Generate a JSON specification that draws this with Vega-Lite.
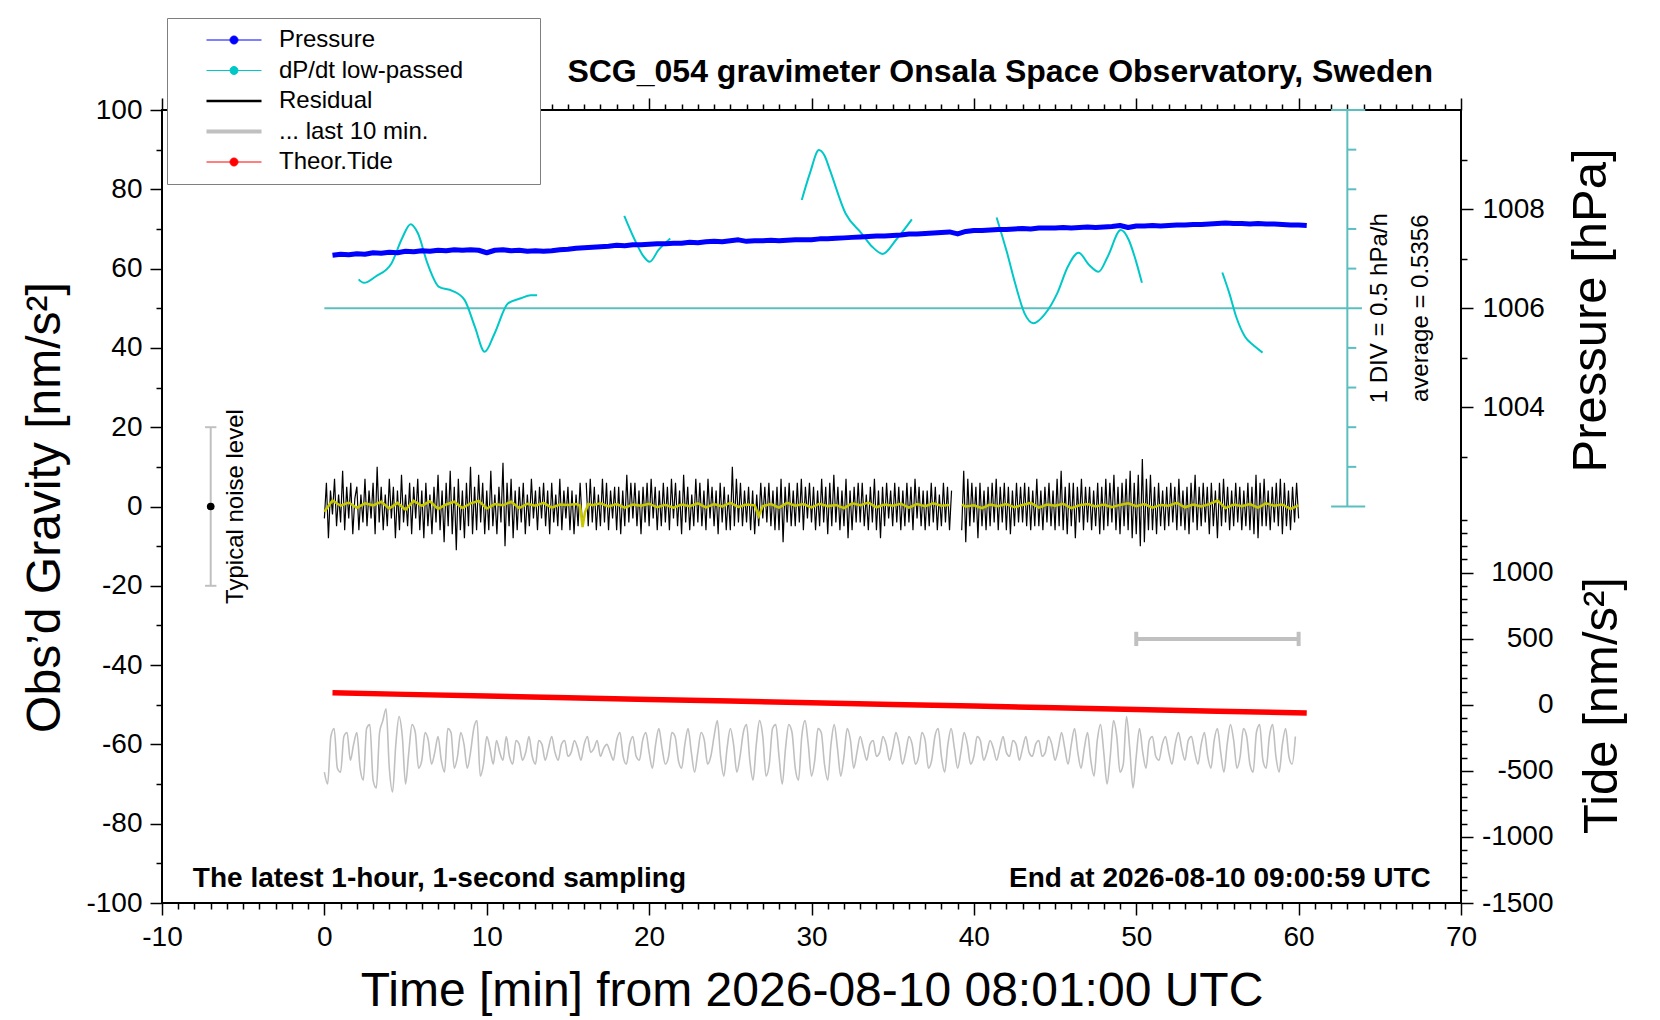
{
  "$schema": "https://vega.github.io/schema/vega-lite/v6.json",
  "width": 1299,
  "height": 793,
  "autosize": {"type": "none"},
  "padding": {"left": 162, "top": 110, "right": 199, "bottom": 117},
  "background": "white",
  "title": {
    "text": "SCG_054 gravimeter Onsala Space Observatory, Sweden",
    "anchor": "end", "frame": "group", "dx": -28, "dy": 80, "offset": 9,
    "fontSize": 32, "fontWeight": "bold", "font": "Liberation Sans", "color": "black"
  },
  "config": {
    "font": "Liberation Sans",
    "view": {"stroke": "black", "strokeWidth": 2},
    "axis": {
      "grid": false, "domain": false, "tickColor": "black", "tickWidth": 1.5, "tickSize": 12,
      "labelFont": "Liberation Sans", "labelFontSize": 28, "labelColor": "black", "labelPadding": 8,
      "labelOverlap": false, "labelFlush": false, "labelBound": false,
      "titleFont": "Liberation Sans", "titleFontSize": 48, "titleFontWeight": "normal", "titleColor": "black"
    },
    "legend": {
      "orient": "none", "legendX": 5, "legendY": -92,
      "labelFont": "Liberation Sans", "labelFontSize": 24, "labelColor": "black", "labelLimit": 0,
      "fillColor": "white", "strokeColor": "#7f7f7f", "padding": 10,
      "symbolSize": 400, "symbolOffset": 45, "labelOffset": 33, "rowPadding": 6.5
    }
  },
  "datasets": {
    "residual": [
      {"t":0,"r":-3},{"t":0.125,"r":6},{"t":0.25,"r":-8},{"t":0.375,"r":4},{"t":0.5,"r":-2},{"t":0.625,"r":7},{"t":0.75,"r":-5},{"t":0.875,"r":3},
      {"t":1,"r":-4},{"t":1.125,"r":9},{"t":1.25,"r":-6},{"t":1.375,"r":5},{"t":1.5,"r":-3},{"t":1.625,"r":6},{"t":1.75,"r":-7},{"t":1.875,"r":2},
      {"t":2,"r":5},{"t":2.125,"r":-6},{"t":2.25,"r":3},{"t":2.375,"r":-4},{"t":2.5,"r":7},{"t":2.625,"r":-5},{"t":2.75,"r":4},{"t":2.875,"r":-3},
      {"t":3,"r":6},{"t":3.125,"r":-7},{"t":3.25,"r":10},{"t":3.375,"r":-4},{"t":3.5,"r":5},{"t":3.625,"r":-6},{"t":3.75,"r":3},{"t":3.875,"r":-5},
      {"t":4,"r":7},{"t":4.125,"r":-3},{"t":4.25,"r":5},{"t":4.375,"r":-8},{"t":4.5,"r":4},{"t":4.625,"r":-6},{"t":4.75,"r":8},{"t":4.875,"r":-4},
      {"t":5,"r":3},{"t":5.125,"r":-5},{"t":5.25,"r":6},{"t":5.375,"r":-7},{"t":5.5,"r":5},{"t":5.625,"r":-3},{"t":5.75,"r":7},{"t":5.875,"r":-6},
      {"t":6,"r":4},{"t":6.125,"r":-8},{"t":6.25,"r":6},{"t":6.375,"r":-5},{"t":6.5,"r":3},{"t":6.625,"r":-7},{"t":6.75,"r":5},{"t":6.875,"r":-4},
      {"t":7,"r":8},{"t":7.125,"r":-6},{"t":7.25,"r":4},{"t":7.375,"r":-9},{"t":7.5,"r":6},{"t":7.625,"r":-5},{"t":7.75,"r":9},{"t":7.875,"r":-7},
      {"t":8,"r":5},{"t":8.125,"r":-11},{"t":8.25,"r":7},{"t":8.375,"r":-6},{"t":8.5,"r":4},{"t":8.625,"r":-8},{"t":8.75,"r":6},{"t":8.875,"r":-5},
      {"t":9,"r":10},{"t":9.125,"r":-7},{"t":9.25,"r":5},{"t":9.375,"r":-6},{"t":9.5,"r":8},{"t":9.625,"r":-4},{"t":9.75,"r":6},{"t":9.875,"r":-7},
      {"t":10,"r":4},{"t":10.125,"r":-6},{"t":10.25,"r":9},{"t":10.375,"r":-5},{"t":10.5,"r":3},{"t":10.625,"r":-7},{"t":10.75,"r":5},{"t":10.875,"r":-4},
      {"t":11,"r":11},{"t":11.125,"r":-10},{"t":11.25,"r":6},{"t":11.375,"r":-5},{"t":11.5,"r":7},{"t":11.625,"r":-8},{"t":11.75,"r":4},{"t":11.875,"r":-6},
      {"t":12,"r":5},{"t":12.125,"r":-4},{"t":12.25,"r":6},{"t":12.375,"r":-7},{"t":12.5,"r":3},{"t":12.625,"r":-5},{"t":12.75,"r":7},{"t":12.875,"r":-3},
      {"t":13,"r":4},{"t":13.125,"r":-6},{"t":13.25,"r":5},{"t":13.375,"r":-3},{"t":13.5,"r":6},{"t":13.625,"r":-5},{"t":13.75,"r":4},{"t":13.875,"r":-7},
      {"t":14,"r":6},{"t":14.125,"r":-4},{"t":14.25,"r":3},{"t":14.375,"r":-5},{"t":14.5,"r":7},{"t":14.625,"r":-6},{"t":14.75,"r":4},{"t":14.875,"r":-3},
      {"t":15,"r":5},{"t":15.125,"r":-6},{"t":15.25,"r":4},{"t":15.375,"r":-7},{"t":15.5,"r":3},{"t":15.625,"r":-5},{"t":15.75,"r":6},{"t":15.875,"r":-4},
      {"t":16,"r":null},{"t":16.125,"r":6},{"t":16.25,"r":-5},{"t":16.375,"r":7},{"t":16.5,"r":-4},{"t":16.625,"r":5},{"t":16.75,"r":-6},{"t":16.875,"r":3},
      {"t":17,"r":-5},{"t":17.125,"r":7},{"t":17.25,"r":-4},{"t":17.375,"r":6},{"t":17.5,"r":-6},{"t":17.625,"r":4},{"t":17.75,"r":-3},{"t":17.875,"r":5},
      {"t":18,"r":-6},{"t":18.125,"r":5},{"t":18.25,"r":-7},{"t":18.375,"r":4},{"t":18.5,"r":-5},{"t":18.625,"r":8},{"t":18.75,"r":-4},{"t":18.875,"r":6},
      {"t":19,"r":-3},{"t":19.125,"r":6},{"t":19.25,"r":-5},{"t":19.375,"r":4},{"t":19.5,"r":-7},{"t":19.625,"r":5},{"t":19.75,"r":-4},{"t":19.875,"r":6},
      {"t":20,"r":-5},{"t":20.125,"r":7},{"t":20.25,"r":-3},{"t":20.375,"r":5},{"t":20.5,"r":-6},{"t":20.625,"r":4},{"t":20.75,"r":-5},{"t":20.875,"r":6},
      {"t":21,"r":-4},{"t":21.125,"r":5},{"t":21.25,"r":-6},{"t":21.375,"r":7},{"t":21.5,"r":-3},{"t":21.625,"r":6},{"t":21.75,"r":-5},{"t":21.875,"r":4},
      {"t":22,"r":-7},{"t":22.125,"r":8},{"t":22.25,"r":-4},{"t":22.375,"r":5},{"t":22.5,"r":-6},{"t":22.625,"r":3},{"t":22.75,"r":-5},{"t":22.875,"r":7},
      {"t":23,"r":-4},{"t":23.125,"r":6},{"t":23.25,"r":-5},{"t":23.375,"r":4},{"t":23.5,"r":-6},{"t":23.625,"r":7},{"t":23.75,"r":-3},{"t":23.875,"r":5},
      {"t":24,"r":-5},{"t":24.125,"r":4},{"t":24.25,"r":-7},{"t":24.375,"r":6},{"t":24.5,"r":-4},{"t":24.625,"r":5},{"t":24.75,"r":-6},{"t":24.875,"r":3},
      {"t":25,"r":-6},{"t":25.125,"r":10},{"t":25.25,"r":-5},{"t":25.375,"r":7},{"t":25.5,"r":-4},{"t":25.625,"r":6},{"t":25.75,"r":-5},{"t":25.875,"r":4},
      {"t":26,"r":-4},{"t":26.125,"r":5},{"t":26.25,"r":-6},{"t":26.375,"r":4},{"t":26.5,"r":-7},{"t":26.625,"r":3},{"t":26.75,"r":-5},{"t":26.875,"r":6},
      {"t":27,"r":-3},{"t":27.125,"r":5},{"t":27.25,"r":-4},{"t":27.375,"r":6},{"t":27.5,"r":-5},{"t":27.625,"r":4},{"t":27.75,"r":-6},{"t":27.875,"r":5},
      {"t":28,"r":-6},{"t":28.125,"r":7},{"t":28.25,"r":-9},{"t":28.375,"r":5},{"t":28.5,"r":-4},{"t":28.625,"r":6},{"t":28.75,"r":-5},{"t":28.875,"r":4},
      {"t":29,"r":-5},{"t":29.125,"r":6},{"t":29.25,"r":-4},{"t":29.375,"r":7},{"t":29.5,"r":-6},{"t":29.625,"r":5},{"t":29.75,"r":-3},{"t":29.875,"r":6},
      {"t":30,"r":-4},{"t":30.125,"r":5},{"t":30.25,"r":-6},{"t":30.375,"r":4},{"t":30.5,"r":-5},{"t":30.625,"r":7},{"t":30.75,"r":-4},{"t":30.875,"r":5},
      {"t":31,"r":-7},{"t":31.125,"r":6},{"t":31.25,"r":-5},{"t":31.375,"r":8},{"t":31.5,"r":-4},{"t":31.625,"r":5},{"t":31.75,"r":-6},{"t":31.875,"r":4},
      {"t":32,"r":-5},{"t":32.125,"r":7},{"t":32.25,"r":-8},{"t":32.375,"r":4},{"t":32.5,"r":-6},{"t":32.625,"r":5},{"t":32.75,"r":-4},{"t":32.875,"r":6},
      {"t":33,"r":-4},{"t":33.125,"r":6},{"t":33.25,"r":-5},{"t":33.375,"r":3},{"t":33.5,"r":-6},{"t":33.625,"r":5},{"t":33.75,"r":-4},{"t":33.875,"r":7},
      {"t":34,"r":-6},{"t":34.125,"r":4},{"t":34.25,"r":-8},{"t":34.375,"r":5},{"t":34.5,"r":-5},{"t":34.625,"r":6},{"t":34.75,"r":-3},{"t":34.875,"r":4},
      {"t":35,"r":-5},{"t":35.125,"r":6},{"t":35.25,"r":-4},{"t":35.375,"r":5},{"t":35.5,"r":-6},{"t":35.625,"r":4},{"t":35.75,"r":-5},{"t":35.875,"r":6},
      {"t":36,"r":-4},{"t":36.125,"r":5},{"t":36.25,"r":-6},{"t":36.375,"r":7},{"t":36.5,"r":-3},{"t":36.625,"r":5},{"t":36.75,"r":-5},{"t":36.875,"r":4},
      {"t":37,"r":-6},{"t":37.125,"r":4},{"t":37.25,"r":-5},{"t":37.375,"r":6},{"t":37.5,"r":-4},{"t":37.625,"r":5},{"t":37.75,"r":-6},{"t":37.875,"r":3},
      {"t":38,"r":-5},{"t":38.125,"r":6},{"t":38.25,"r":-4},{"t":38.375,"r":5},{"t":38.5,"r":-6},{"t":38.625,"r":4},{"t":38.75,"r":null},{"t":38.875,"r":null},
      {"t":39,"r":null},{"t":39.125,"r":null},{"t":39.25,"r":-6},{"t":39.375,"r":9},{"t":39.5,"r":-9},{"t":39.625,"r":7},{"t":39.75,"r":-5},{"t":39.875,"r":6},
      {"t":40,"r":-4},{"t":40.125,"r":5},{"t":40.25,"r":-8},{"t":40.375,"r":6},{"t":40.5,"r":-5},{"t":40.625,"r":4},{"t":40.75,"r":-6},{"t":40.875,"r":5},
      {"t":41,"r":-5},{"t":41.125,"r":6},{"t":41.25,"r":-4},{"t":41.375,"r":7},{"t":41.5,"r":-6},{"t":41.625,"r":5},{"t":41.75,"r":-4},{"t":41.875,"r":6},
      {"t":42,"r":-6},{"t":42.125,"r":5},{"t":42.25,"r":-7},{"t":42.375,"r":4},{"t":42.5,"r":-5},{"t":42.625,"r":6},{"t":42.75,"r":-4},{"t":42.875,"r":5},
      {"t":43,"r":-4},{"t":43.125,"r":6},{"t":43.25,"r":-5},{"t":43.375,"r":5},{"t":43.5,"r":-6},{"t":43.625,"r":4},{"t":43.75,"r":-5},{"t":43.875,"r":7},
      {"t":44,"r":-5},{"t":44.125,"r":4},{"t":44.25,"r":-6},{"t":44.375,"r":5},{"t":44.5,"r":-4},{"t":44.625,"r":6},{"t":44.75,"r":-5},{"t":44.875,"r":4},
      {"t":45,"r":-6},{"t":45.125,"r":7},{"t":45.25,"r":-5},{"t":45.375,"r":9},{"t":45.5,"r":-6},{"t":45.625,"r":5},{"t":45.75,"r":-7},{"t":45.875,"r":6},
      {"t":46,"r":-5},{"t":46.125,"r":6},{"t":46.25,"r":-8},{"t":46.375,"r":5},{"t":46.5,"r":-4},{"t":46.625,"r":7},{"t":46.75,"r":-6},{"t":46.875,"r":5},
      {"t":47,"r":-4},{"t":47.125,"r":5},{"t":47.25,"r":-6},{"t":47.375,"r":4},{"t":47.5,"r":-5},{"t":47.625,"r":6},{"t":47.75,"r":-7},{"t":47.875,"r":5},
      {"t":48,"r":-6},{"t":48.125,"r":7},{"t":48.25,"r":-5},{"t":48.375,"r":6},{"t":48.5,"r":-4},{"t":48.625,"r":8},{"t":48.75,"r":-6},{"t":48.875,"r":5},
      {"t":49,"r":-7},{"t":49.125,"r":6},{"t":49.25,"r":-5},{"t":49.375,"r":7},{"t":49.5,"r":-6},{"t":49.625,"r":9},{"t":49.75,"r":-8},{"t":49.875,"r":6},
      {"t":50,"r":-7},{"t":50.125,"r":8},{"t":50.25,"r":-10},{"t":50.375,"r":12},{"t":50.5,"r":-9},{"t":50.625,"r":7},{"t":50.75,"r":-6},{"t":50.875,"r":8},
      {"t":51,"r":-6},{"t":51.125,"r":5},{"t":51.25,"r":-7},{"t":51.375,"r":6},{"t":51.5,"r":-5},{"t":51.625,"r":4},{"t":51.75,"r":-6},{"t":51.875,"r":5},
      {"t":52,"r":-5},{"t":52.125,"r":6},{"t":52.25,"r":-4},{"t":52.375,"r":5},{"t":52.5,"r":-6},{"t":52.625,"r":7},{"t":52.75,"r":-5},{"t":52.875,"r":4},
      {"t":53,"r":-6},{"t":53.125,"r":5},{"t":53.25,"r":-7},{"t":53.375,"r":6},{"t":53.5,"r":-4},{"t":53.625,"r":8},{"t":53.75,"r":-6},{"t":53.875,"r":5},
      {"t":54,"r":-5},{"t":54.125,"r":6},{"t":54.25,"r":-4},{"t":54.375,"r":5},{"t":54.5,"r":-7},{"t":54.625,"r":6},{"t":54.75,"r":-5},{"t":54.875,"r":4},
      {"t":55,"r":-8},{"t":55.125,"r":6},{"t":55.25,"r":-5},{"t":55.375,"r":7},{"t":55.5,"r":-4},{"t":55.625,"r":5},{"t":55.75,"r":-6},{"t":55.875,"r":4},
      {"t":56,"r":-5},{"t":56.125,"r":6},{"t":56.25,"r":-4},{"t":56.375,"r":5},{"t":56.5,"r":-6},{"t":56.625,"r":4},{"t":56.75,"r":-5},{"t":56.875,"r":6},
      {"t":57,"r":-6},{"t":57.125,"r":5},{"t":57.25,"r":-7},{"t":57.375,"r":8},{"t":57.5,"r":-8},{"t":57.625,"r":6},{"t":57.75,"r":-5},{"t":57.875,"r":7},
      {"t":58,"r":-5},{"t":58.125,"r":4},{"t":58.25,"r":-6},{"t":58.375,"r":5},{"t":58.5,"r":-4},{"t":58.625,"r":6},{"t":58.75,"r":-5},{"t":58.875,"r":7},
      {"t":59,"r":-7},{"t":59.125,"r":6},{"t":59.25,"r":-5},{"t":59.375,"r":4},{"t":59.5,"r":-6},{"t":59.625,"r":5},{"t":59.75,"r":-4},{"t":59.875,"r":6},
      {"t":60,"r":-3}
    ],
    "lowpass": [
      {"t":0,"r":-1.3},{"t":0.5,"r":1.5},{"t":1,"r":0.2},{"t":1.5,"r":1.0},{"t":2,"r":-0.3},{"t":2.5,"r":0.8},{"t":3,"r":0.3},{"t":3.5,"r":1.2},
      {"t":4,"r":-0.5},{"t":4.5,"r":0.9},{"t":5,"r":-0.8},{"t":5.5,"r":1.4},{"t":6,"r":0.2},{"t":6.5,"r":1.3},{"t":7,"r":-0.6},{"t":7.5,"r":0.5},
      {"t":8,"r":1.2},{"t":8.5,"r":-0.4},{"t":9,"r":0.8},{"t":9.5,"r":1.4},{"t":10,"r":-0.5},{"t":10.5,"r":0.6},{"t":11,"r":0.3},{"t":11.5,"r":1.2},
      {"t":12,"r":-0.4},{"t":12.5,"r":0.7},{"t":13,"r":0.2},{"t":13.5,"r":0.9},{"t":14,"r":-0.3},{"t":14.5,"r":0.5},{"t":15,"r":0.4},{"t":15.5,"r":0.6},
      {"t":15.75,"r":0.2},{"t":15.9,"r":-5.2},{"t":16.05,"r":-1.5},{"t":16.25,"r":0.6},{"t":16.5,"r":0.3},{"t":17,"r":0.8},{"t":17.5,"r":0.0},{"t":18,"r":0.6},
      {"t":18.5,"r":-0.3},{"t":19,"r":0.5},{"t":19.5,"r":0.2},{"t":20,"r":0.7},{"t":20.5,"r":-0.2},{"t":21,"r":0.4},{"t":21.5,"r":-0.3},{"t":22,"r":0.5},
      {"t":22.5,"r":0.1},{"t":23,"r":0.8},{"t":23.5,"r":-0.2},{"t":24,"r":0.6},{"t":24.5,"r":0.0},{"t":25,"r":0.9},{"t":25.5,"r":-0.1},{"t":26,"r":0.5},
      {"t":26.5,"r":0.3},{"t":26.75,"r":-2.4},{"t":27,"r":0.1},{"t":27.5,"r":0.6},{"t":28,"r":-0.3},{"t":28.5,"r":0.9},{"t":29,"r":0.2},{"t":29.5,"r":0.6},
      {"t":30,"r":-0.2},{"t":30.5,"r":0.7},{"t":31,"r":0.1},{"t":31.5,"r":0.4},{"t":32,"r":-0.4},{"t":32.5,"r":0.8},{"t":33,"r":0.3},{"t":33.5,"r":1.0},
      {"t":34,"r":-0.2},{"t":34.5,"r":0.5},{"t":35,"r":0.2},{"t":35.5,"r":0.7},{"t":36,"r":-0.3},{"t":36.5,"r":0.6},{"t":37,"r":0.1},{"t":37.5,"r":0.8},
      {"t":38,"r":0.2},{"t":38.5,"r":0.4},{"t":38.75,"r":null},{"t":39.25,"r":0.5},{"t":39.5,"r":0.0},{"t":40,"r":0.3},{"t":40.5,"r":-0.4},{"t":41,"r":0.5},
      {"t":41.5,"r":0.1},{"t":42,"r":0.6},{"t":42.5,"r":-0.2},{"t":43,"r":0.4},{"t":43.5,"r":0.9},{"t":44,"r":-0.3},{"t":44.5,"r":0.5},{"t":45,"r":0.2},
      {"t":45.5,"r":0.7},{"t":46,"r":-0.4},{"t":46.5,"r":0.3},{"t":47,"r":0.6},{"t":47.5,"r":0.0},{"t":48,"r":0.5},{"t":48.5,"r":-0.2},{"t":49,"r":0.4},
      {"t":49.5,"r":0.8},{"t":50,"r":0.1},{"t":50.5,"r":0.6},{"t":51,"r":-0.3},{"t":51.5,"r":0.4},{"t":52,"r":0.2},{"t":52.5,"r":0.9},{"t":53,"r":-0.2},
      {"t":53.5,"r":0.5},{"t":54,"r":0.0},{"t":54.5,"r":0.6},{"t":55,"r":1.5},{"t":55.5,"r":-0.4},{"t":56,"r":0.5},{"t":56.5,"r":0.1},{"t":57,"r":0.6},
      {"t":57.5,"r":-0.3},{"t":58,"r":0.8},{"t":58.5,"r":0.2},{"t":59,"r":0.5},{"t":59.5,"r":-0.6},{"t":60,"r":0.3}
    ],
    "last10": [
      {"t":0,"g":-67},{"t":0.2,"g":-70},{"t":0.4,"g":-58},{"t":0.6,"g":-56},{"t":0.8,"g":-66},
      {"t":1,"g":-67},{"t":1.2,"g":-58},{"t":1.4,"g":-57},{"t":1.6,"g":-64},{"t":1.8,"g":-60},
      {"t":2,"g":-57},{"t":2.2,"g":-66},{"t":2.4,"g":-69},{"t":2.6,"g":-56},{"t":2.8,"g":-55},
      {"t":3,"g":-69},{"t":3.2,"g":-71},{"t":3.4,"g":-57},{"t":3.6,"g":-54},{"t":3.8,"g":-51},
      {"t":4,"g":-66},{"t":4.2,"g":-72},{"t":4.4,"g":-60},{"t":4.6,"g":-53},{"t":4.8,"g":-58},
      {"t":5,"g":-70},{"t":5.2,"g":-62},{"t":5.4,"g":-55},{"t":5.6,"g":-57},{"t":5.8,"g":-66},
      {"t":6,"g":-64},{"t":6.2,"g":-57},{"t":6.4,"g":-59},{"t":6.6,"g":-65},{"t":6.8,"g":-62},
      {"t":7,"g":-58},{"t":7.2,"g":-64},{"t":7.4,"g":-67},{"t":7.6,"g":-56},{"t":7.8,"g":-57},
      {"t":8,"g":-66},{"t":8.2,"g":-63},{"t":8.4,"g":-57},{"t":8.6,"g":-60},{"t":8.8,"g":-66},
      {"t":9,"g":-62},{"t":9.2,"g":-56},{"t":9.4,"g":-54},{"t":9.6,"g":-68},{"t":9.8,"g":-65},
      {"t":10,"g":-58},{"t":10.2,"g":-61},{"t":10.4,"g":-65},{"t":10.6,"g":-59},{"t":10.8,"g":-62},
      {"t":11,"g":-64},{"t":11.2,"g":-58},{"t":11.4,"g":-63},{"t":11.6,"g":-65},{"t":11.8,"g":-59},
      {"t":12,"g":-60},{"t":12.2,"g":-64},{"t":12.4,"g":-62},{"t":12.6,"g":-58},{"t":12.8,"g":-63},
      {"t":13,"g":-65},{"t":13.2,"g":-59},{"t":13.4,"g":-60},{"t":13.6,"g":-64},{"t":13.8,"g":-61},
      {"t":14,"g":-58},{"t":14.2,"g":-62},{"t":14.4,"g":-64},{"t":14.6,"g":-60},{"t":14.8,"g":-59},
      {"t":15,"g":-63},{"t":15.2,"g":-62},{"t":15.4,"g":-59},{"t":15.6,"g":-61},{"t":15.8,"g":-64},
      {"t":16,"g":-60},{"t":16.2,"g":-58},{"t":16.4,"g":-62},{"t":16.6,"g":-61},{"t":16.8,"g":-59},
      {"t":17,"g":-63},{"t":17.2,"g":-61},{"t":17.4,"g":-60},{"t":17.6,"g":-62},{"t":17.8,"g":-64},
      {"t":18,"g":-59},{"t":18.2,"g":-57},{"t":18.4,"g":-63},{"t":18.6,"g":-65},{"t":18.8,"g":-60},
      {"t":19,"g":-58},{"t":19.2,"g":-63},{"t":19.4,"g":-64},{"t":19.6,"g":-59},{"t":19.8,"g":-57},
      {"t":20,"g":-62},{"t":20.2,"g":-66},{"t":20.4,"g":-60},{"t":20.6,"g":-56},{"t":20.8,"g":-61},
      {"t":21,"g":-65},{"t":21.2,"g":-63},{"t":21.4,"g":-57},{"t":21.6,"g":-58},{"t":21.8,"g":-64},
      {"t":22,"g":-66},{"t":22.2,"g":-60},{"t":22.4,"g":-56},{"t":22.6,"g":-62},{"t":22.8,"g":-67},
      {"t":23,"g":-62},{"t":23.2,"g":-57},{"t":23.4,"g":-59},{"t":23.6,"g":-65},{"t":23.8,"g":-63},
      {"t":24,"g":-58},{"t":24.2,"g":-54},{"t":24.4,"g":-63},{"t":24.6,"g":-68},{"t":24.8,"g":-61},
      {"t":25,"g":-56},{"t":25.2,"g":-60},{"t":25.4,"g":-67},{"t":25.6,"g":-63},{"t":25.8,"g":-57},
      {"t":26,"g":-55},{"t":26.2,"g":-64},{"t":26.4,"g":-69},{"t":26.6,"g":-60},{"t":26.8,"g":-54},
      {"t":27,"g":-58},{"t":27.2,"g":-68},{"t":27.4,"g":-65},{"t":27.6,"g":-56},{"t":27.8,"g":-55},
      {"t":28,"g":-63},{"t":28.2,"g":-70},{"t":28.4,"g":-61},{"t":28.6,"g":-55},{"t":28.8,"g":-57},
      {"t":29,"g":-66},{"t":29.2,"g":-69},{"t":29.4,"g":-58},{"t":29.6,"g":-54},{"t":29.8,"g":-60},
      {"t":30,"g":-68},{"t":30.2,"g":-64},{"t":30.4,"g":-56},{"t":30.6,"g":-57},{"t":30.8,"g":-65},
      {"t":31,"g":-69},{"t":31.2,"g":-60},{"t":31.4,"g":-55},{"t":31.6,"g":-61},{"t":31.8,"g":-68},
      {"t":32,"g":-63},{"t":32.2,"g":-56},{"t":32.4,"g":-59},{"t":32.6,"g":-66},{"t":32.8,"g":-62},
      {"t":33,"g":-58},{"t":33.2,"g":-61},{"t":33.4,"g":-64},{"t":33.6,"g":-60},{"t":33.8,"g":-59},
      {"t":34,"g":-63},{"t":34.2,"g":-62},{"t":34.4,"g":-58},{"t":34.6,"g":-60},{"t":34.8,"g":-64},
      {"t":35,"g":-61},{"t":35.2,"g":-57},{"t":35.4,"g":-60},{"t":35.6,"g":-65},{"t":35.8,"g":-62},
      {"t":36,"g":-58},{"t":36.2,"g":-60},{"t":36.4,"g":-65},{"t":36.6,"g":-63},{"t":36.8,"g":-57},
      {"t":37,"g":-59},{"t":37.2,"g":-66},{"t":37.4,"g":-64},{"t":37.6,"g":-58},{"t":37.8,"g":-56},
      {"t":38,"g":-63},{"t":38.2,"g":-67},{"t":38.4,"g":-60},{"t":38.6,"g":-56},{"t":38.8,"g":-61},
      {"t":39,"g":-66},{"t":39.2,"g":-62},{"t":39.4,"g":-57},{"t":39.6,"g":-60},{"t":39.8,"g":-65},
      {"t":40,"g":-63},{"t":40.2,"g":-58},{"t":40.4,"g":-59},{"t":40.6,"g":-64},{"t":40.8,"g":-62},
      {"t":41,"g":-59},{"t":41.2,"g":-61},{"t":41.4,"g":-64},{"t":41.6,"g":-61},{"t":41.8,"g":-58},
      {"t":42,"g":-62},{"t":42.2,"g":-63},{"t":42.4,"g":-59},{"t":42.6,"g":-60},{"t":42.8,"g":-64},
      {"t":43,"g":-61},{"t":43.2,"g":-58},{"t":43.4,"g":-62},{"t":43.6,"g":-63},{"t":43.8,"g":-60},
      {"t":44,"g":-59},{"t":44.2,"g":-63},{"t":44.4,"g":-62},{"t":44.6,"g":-58},{"t":44.8,"g":-60},
      {"t":45,"g":-64},{"t":45.2,"g":-61},{"t":45.4,"g":-57},{"t":45.6,"g":-61},{"t":45.8,"g":-65},
      {"t":46,"g":-60},{"t":46.2,"g":-56},{"t":46.4,"g":-62},{"t":46.6,"g":-66},{"t":46.8,"g":-61},
      {"t":47,"g":-57},{"t":47.2,"g":-64},{"t":47.4,"g":-68},{"t":47.6,"g":-59},{"t":47.8,"g":-55},
      {"t":48,"g":-62},{"t":48.2,"g":-70},{"t":48.4,"g":-63},{"t":48.6,"g":-54},{"t":48.8,"g":-58},
      {"t":49,"g":-67},{"t":49.2,"g":-65},{"t":49.4,"g":-53},{"t":49.6,"g":-61},{"t":49.8,"g":-71},
      {"t":50,"g":-63},{"t":50.2,"g":-56},{"t":50.4,"g":-62},{"t":50.6,"g":-66},{"t":50.8,"g":-59},
      {"t":51,"g":-58},{"t":51.2,"g":-63},{"t":51.4,"g":-64},{"t":51.6,"g":-60},{"t":51.8,"g":-58},
      {"t":52,"g":-62},{"t":52.2,"g":-65},{"t":52.4,"g":-60},{"t":52.6,"g":-57},{"t":52.8,"g":-61},
      {"t":53,"g":-64},{"t":53.2,"g":-59},{"t":53.4,"g":-58},{"t":53.6,"g":-62},{"t":53.8,"g":-65},
      {"t":54,"g":-60},{"t":54.2,"g":-57},{"t":54.4,"g":-63},{"t":54.6,"g":-66},{"t":54.8,"g":-59},
      {"t":55,"g":-56},{"t":55.2,"g":-62},{"t":55.4,"g":-67},{"t":55.6,"g":-60},{"t":55.8,"g":-55},
      {"t":56,"g":-59},{"t":56.2,"g":-66},{"t":56.4,"g":-63},{"t":56.6,"g":-56},{"t":56.8,"g":-58},
      {"t":57,"g":-65},{"t":57.2,"g":-67},{"t":57.4,"g":-57},{"t":57.6,"g":-55},{"t":57.8,"g":-64},
      {"t":58,"g":-66},{"t":58.2,"g":-58},{"t":58.4,"g":-55},{"t":58.6,"g":-63},{"t":58.8,"g":-67},
      {"t":59,"g":-60},{"t":59.2,"g":-56},{"t":59.4,"g":-63},{"t":59.6,"g":-65},{"t":59.8,"g":-58}
    ],
    "pressure": [
      {"t":0.5,"p":1007.07},{"t":1,"p":1007.09},{"t":1.5,"p":1007.08},{"t":2,"p":1007.1},{"t":2.5,"p":1007.09},{"t":3,"p":1007.12},
      {"t":3.5,"p":1007.11},{"t":4,"p":1007.13},{"t":4.5,"p":1007.12},{"t":5,"p":1007.15},{"t":5.5,"p":1007.14},{"t":6,"p":1007.16},
      {"t":6.5,"p":1007.15},{"t":7,"p":1007.17},{"t":7.5,"p":1007.16},{"t":8,"p":1007.18},{"t":8.5,"p":1007.17},{"t":9,"p":1007.18},
      {"t":9.5,"p":1007.17},{"t":10,"p":1007.12},{"t":10.5,"p":1007.17},{"t":11,"p":1007.18},{"t":11.5,"p":1007.16},{"t":12,"p":1007.17},
      {"t":12.5,"p":1007.15},{"t":13,"p":1007.16},{"t":13.5,"p":1007.15},{"t":14,"p":1007.16},{"t":14.5,"p":1007.18},{"t":15,"p":1007.19},
      {"t":15.5,"p":1007.21},{"t":16,"p":1007.22},{"t":16.5,"p":1007.23},{"t":17,"p":1007.24},{"t":17.5,"p":1007.25},{"t":18,"p":1007.27},
      {"t":18.5,"p":1007.26},{"t":19,"p":1007.28},{"t":19.5,"p":1007.28},{"t":20,"p":1007.29},{"t":20.5,"p":1007.3},{"t":21,"p":1007.3},
      {"t":21.5,"p":1007.31},{"t":22,"p":1007.31},{"t":22.5,"p":1007.33},{"t":23,"p":1007.32},{"t":23.5,"p":1007.34},{"t":24,"p":1007.35},
      {"t":24.5,"p":1007.34},{"t":25,"p":1007.36},{"t":25.5,"p":1007.38},{"t":26,"p":1007.35},{"t":26.5,"p":1007.36},{"t":27,"p":1007.36},
      {"t":27.5,"p":1007.37},{"t":28,"p":1007.36},{"t":28.5,"p":1007.37},{"t":29,"p":1007.38},{"t":29.5,"p":1007.38},{"t":30,"p":1007.38},
      {"t":30.5,"p":1007.4},{"t":31,"p":1007.4},{"t":31.5,"p":1007.41},{"t":32,"p":1007.42},{"t":32.5,"p":1007.43},{"t":33,"p":1007.44},
      {"t":33.5,"p":1007.45},{"t":34,"p":1007.46},{"t":34.5,"p":1007.46},{"t":35,"p":1007.47},{"t":35.5,"p":1007.48},{"t":36,"p":1007.5},
      {"t":36.5,"p":1007.5},{"t":37,"p":1007.51},{"t":37.5,"p":1007.52},{"t":38,"p":1007.53},{"t":38.5,"p":1007.54},{"t":39,"p":1007.5},
      {"t":39.5,"p":1007.55},{"t":40,"p":1007.57},{"t":40.5,"p":1007.57},{"t":41,"p":1007.58},{"t":41.5,"p":1007.59},{"t":42,"p":1007.59},
      {"t":42.5,"p":1007.6},{"t":43,"p":1007.61},{"t":43.5,"p":1007.6},{"t":44,"p":1007.62},{"t":44.5,"p":1007.62},{"t":45,"p":1007.62},
      {"t":45.5,"p":1007.63},{"t":46,"p":1007.62},{"t":46.5,"p":1007.63},{"t":47,"p":1007.64},{"t":47.5,"p":1007.63},{"t":48,"p":1007.64},
      {"t":48.5,"p":1007.65},{"t":49,"p":1007.67},{"t":49.5,"p":1007.63},{"t":50,"p":1007.66},{"t":50.5,"p":1007.66},{"t":51,"p":1007.67},
      {"t":51.5,"p":1007.66},{"t":52,"p":1007.67},{"t":52.5,"p":1007.68},{"t":53,"p":1007.68},{"t":53.5,"p":1007.69},{"t":54,"p":1007.69},
      {"t":54.5,"p":1007.7},{"t":55,"p":1007.71},{"t":55.5,"p":1007.72},{"t":56,"p":1007.71},{"t":56.5,"p":1007.71},{"t":57,"p":1007.7},
      {"t":57.5,"p":1007.71},{"t":58,"p":1007.7},{"t":58.5,"p":1007.7},{"t":59,"p":1007.69},{"t":59.5,"p":1007.68},{"t":60,"p":1007.68},
      {"t":60.5,"p":1007.67}
    ],
    "tide": [
      {"t":0.5,"tide":90},{"t":5,"tide":78.5},{"t":10,"tide":66},{"t":15,"tide":53},{"t":20,"tide":40.5},{"t":25,"tide":28},{"t":30,"tide":15},
      {"t":35,"tide":2.5},{"t":40,"tide":-10},{"t":45,"tide":-23},{"t":50,"tide":-36},{"t":55,"tide":-49},{"t":60.5,"tide":-63}
    ],
    "dpdt": [
      {"seg":1,"t":2.11,"d":0.9},{"seg":1,"t":2.44,"d":0.856},{"seg":1,"t":3.16,"d":0.936},{"seg":1,"t":4.13,"d":1.101},{"seg":1,"t":4.78,"d":1.416},
      {"seg":1,"t":5.31,"d":1.596},{"seg":1,"t":5.76,"d":1.481},{"seg":1,"t":6.35,"d":1.101},{"seg":1,"t":7.06,"d":0.806},{"seg":1,"t":7.88,"d":0.756},
      {"seg":1,"t":8.63,"d":0.641},{"seg":1,"t":9.27,"d":0.301},{"seg":1,"t":9.87,"d":-0.014},{"seg":1,"t":10.49,"d":0.221},{"seg":1,"t":11.3,"d":0.596},
      {"seg":1,"t":12.1,"d":0.661},{"seg":1,"t":12.7,"d":0.701},{"seg":1,"t":13.1,"d":0.701},
      {"seg":2,"t":18.47,"d":1.701},{"seg":2,"t":19.12,"d":1.396},{"seg":2,"t":19.6,"d":1.206},{"seg":2,"t":20.03,"d":1.121},{"seg":2,"t":20.58,"d":1.271},
      {"seg":2,"t":21.3,"d":1.416},
      {"seg":3,"t":29.4,"d":1.901},{"seg":3,"t":29.9,"d":2.236},{"seg":3,"t":30.46,"d":2.531},{"seg":3,"t":30.8,"d":2.461},{"seg":3,"t":31.13,"d":2.281},
      {"seg":3,"t":32.1,"d":1.731},{"seg":3,"t":33.08,"d":1.481},{"seg":3,"t":33.74,"d":1.311},{"seg":3,"t":34.39,"d":1.221},{"seg":3,"t":35.2,"d":1.396},
      {"seg":3,"t":36.18,"d":1.656},
      {"seg":4,"t":41.4,"d":1.681},{"seg":4,"t":42.05,"d":1.231},{"seg":4,"t":42.54,"d":0.851},{"seg":4,"t":43.12,"d":0.471},{"seg":4,"t":43.68,"d":0.346},
      {"seg":4,"t":44.33,"d":0.451},{"seg":4,"t":45.14,"d":0.726},{"seg":4,"t":45.79,"d":1.061},{"seg":4,"t":46.45,"d":1.236},{"seg":4,"t":47.1,"d":1.081},
      {"seg":4,"t":47.68,"d":0.996},{"seg":4,"t":48.24,"d":1.186},{"seg":4,"t":49.05,"d":1.521},{"seg":4,"t":49.54,"d":1.396},{"seg":4,"t":49.96,"d":1.146},
      {"seg":4,"t":50.35,"d":0.856},
      {"seg":5,"t":55.3,"d":0.986},{"seg":5,"t":55.73,"d":0.726},{"seg":5,"t":56.15,"d":0.431},{"seg":5,"t":56.7,"d":0.176},{"seg":5,"t":57.2,"d":0.071},
      {"seg":5,"t":57.78,"d":-0.024}
    ],
    "dpavg": [{"t":0,"t2":63.9,"d":0.5356}],
    "dpaxis": [
      {"t":63,"t2":63,"g":0,"g2":100},
      {"t":62,"t2":64.1,"g":0,"g2":0},{"t":62,"t2":64.1,"g":100,"g2":100},
      {"t":63,"t2":63.55,"g":10,"g2":10},{"t":63,"t2":63.55,"g":20,"g2":20},{"t":63,"t2":63.55,"g":30,"g2":30},
      {"t":63,"t2":63.55,"g":40,"g2":40},{"t":63,"t2":63.55,"g":60,"g2":60},{"t":63,"t2":63.55,"g":70,"g2":70},
      {"t":63,"t2":63.55,"g":80,"g2":80},{"t":63,"t2":63.55,"g":90,"g2":90}
    ],
    "noisebar": [
      {"t":-7,"t2":-7,"g":-20,"g2":20},
      {"t":-7.35,"t2":-6.65,"g":20,"g2":20},
      {"t":-7.35,"t2":-6.65,"g":-20,"g2":-20}
    ],
    "noisedot": [{"t":-7,"g":0}],
    "span10": [
      {"t":50,"t2":60,"g":-33.4,"g2":-33.4},
      {"t":50,"t2":50,"g":-35.2,"g2":-31.6},
      {"t":60,"t2":60,"g":-35.2,"g2":-31.6}
    ],
    "vtext": [
      {"t":-5.42,"g":0,"txt":"Typical noise level"},
      {"t":65.0,"g":50,"txt":"1 DIV = 0.5 hPa/h"},
      {"t":67.55,"g":50,"txt":"average = 0.5356"}
    ],
    "note_left": [{"t":-8.1,"g":-93.9,"txt":"The latest 1-hour, 1-second sampling"}],
    "note_right": [{"t":68.14,"g":-93.9,"txt":"End at 2026-08-10 09:00:59 UTC"}]
  },
  "layer": [
    {
      "data": {"name": "residual"},
      "mark": {"type": "line", "strokeWidth": 1.2},
      "encoding": {
        "x": {
          "field": "t", "type": "quantitative", "scale": {"domain": [-10, 70]},
          "axis": {
            "orient": "bottom",
            "values": [-10,-9,-8,-7,-6,-5,-4,-3,-2,-1,0,1,2,3,4,5,6,7,8,9,10,11,12,13,14,15,16,17,18,19,20,21,22,23,24,25,26,27,28,29,30,31,32,33,34,35,36,37,38,39,40,41,42,43,44,45,46,47,48,49,50,51,52,53,54,55,56,57,58,59,60,61,62,63,64,65,66,67,68,69,70],
            "labelExpr": "datum.value % 10 === 0 ? '' + datum.value : ''",
            "tickSize": {"condition": {"test": "datum.value % 10 === 0", "value": 12}, "value": 6},
            "title": "Time [min] from 2026-08-10 08:01:00 UTC",
            "titleY": 88, "titleBaseline": "middle"
          }
        },
        "y": {
          "field": "r", "type": "quantitative", "scale": {"domain": [-100, 100]},
          "axis": {
            "orient": "left",
            "values": [-100,-90,-80,-70,-60,-50,-40,-30,-20,-10,0,10,20,30,40,50,60,70,80,90,100],
            "labelExpr": "datum.value % 20 === 0 ? '' + datum.value : ''",
            "tickSize": {"condition": {"test": "datum.value % 20 === 0", "value": 12}, "value": 6},
            "title": "Obs’d Gravity [nm/s²]",
            "titleAngle": 270, "titleX": -117, "titleY": 397,
            "titleAlign": "center", "titleBaseline": "middle"
          }
        },
        "color": {
          "datum": "Residual", "type": "nominal",
          "scale": {
            "domain": ["Pressure", "dP/dt low-passed", "Residual", "... last 10 min.", "Theor.Tide"],
            "range": ["#0000ff", "#00c8c8", "#000000", "#c0c0c0", "#ff0000"]
          },
          "legend": {
            "title": null,
            "labelExpr": "datum.label + '\u00a0\u00a0\u00a0\u00a0\u00a0\u00a0\u00a0\u00a0\u00a0\u00a0\u200b'",
            "encode": {
              "symbols": {
                "update": {
                  "shape": {"signal": "datum.value === 'Residual' || datum.value === '... last 10 min.' ? 'M-2.75,0H2.75' : 'M-2.75,0H2.75M-0.4,0A0.4,0.4,0,1,0,0.4,0A0.4,0.4,0,1,0,-0.4,0Z'"},
                  "strokeWidth": {"signal": "datum.value === 'Residual' ? 2.5 : datum.value === '... last 10 min.' ? 4 : 1"},
                  "fill": {"scale": "color", "field": "value"},
                  "stroke": {"scale": "color", "field": "value"},
                  "opacity": {"value": 1}
                }
              }
            }
          }
        }
      }
    },
    {
      "data": {"name": "lowpass"},
      "mark": {"type": "line", "color": "#c8c800", "strokeWidth": 2.5},
      "encoding": {
        "x": {"field": "t", "type": "quantitative", "scale": {"domain": [-10, 70]}, "axis": null},
        "y": {"field": "r", "type": "quantitative", "scale": {"domain": [-100, 100]}, "axis": null}
      }
    },
    {
      "data": {"name": "last10"},
      "mark": {"type": "line", "strokeWidth": 1.6, "interpolate": "monotone"},
      "encoding": {
        "x": {"field": "t", "type": "quantitative", "scale": {"domain": [-10, 70]}, "axis": null},
        "y": {"field": "g", "type": "quantitative", "scale": {"domain": [-100, 100]}, "axis": null},
        "color": {
          "datum": "... last 10 min.", "type": "nominal",
          "scale": {
            "domain": ["Pressure", "dP/dt low-passed", "Residual", "... last 10 min.", "Theor.Tide"],
            "range": ["#0000ff", "#00c8c8", "#000000", "#c0c0c0", "#ff0000"]
          }
        }
      }
    },
    {
      "data": {"name": "span10"},
      "mark": {"type": "rule", "color": "#c0c0c0", "strokeWidth": 4},
      "encoding": {
        "x": {"field": "t", "type": "quantitative", "scale": {"domain": [-10, 70]}, "axis": null},
        "x2": {"field": "t2"},
        "y": {"field": "g", "type": "quantitative", "scale": {"domain": [-100, 100]}, "axis": null},
        "y2": {"field": "g2"}
      }
    },
    {
      "data": {"name": "noisebar"},
      "mark": {"type": "rule", "color": "#c0c0c0", "strokeWidth": 2},
      "encoding": {
        "x": {"field": "t", "type": "quantitative", "scale": {"domain": [-10, 70]}, "axis": null},
        "x2": {"field": "t2"},
        "y": {"field": "g", "type": "quantitative", "scale": {"domain": [-100, 100]}, "axis": null},
        "y2": {"field": "g2"}
      }
    },
    {
      "data": {"name": "noisedot"},
      "mark": {"type": "point", "filled": true, "color": "black", "size": 60, "opacity": 1},
      "encoding": {
        "x": {"field": "t", "type": "quantitative", "scale": {"domain": [-10, 70]}, "axis": null},
        "y": {"field": "g", "type": "quantitative", "scale": {"domain": [-100, 100]}, "axis": null}
      }
    },
    {
      "data": {"name": "dpaxis"},
      "mark": {"type": "rule", "color": "#5cbfbf", "strokeWidth": 2},
      "encoding": {
        "x": {"field": "t", "type": "quantitative", "scale": {"domain": [-10, 70]}, "axis": null},
        "x2": {"field": "t2"},
        "y": {"field": "g", "type": "quantitative", "scale": {"domain": [-100, 100]}, "axis": null},
        "y2": {"field": "g2"}
      }
    },
    {
      "data": {"name": "vtext"},
      "mark": {"type": "text", "angle": 270, "align": "center", "baseline": "middle", "fontSize": 24, "font": "Liberation Sans", "color": "black"},
      "encoding": {
        "x": {"field": "t", "type": "quantitative", "scale": {"domain": [-10, 70]}, "axis": null},
        "y": {"field": "g", "type": "quantitative", "scale": {"domain": [-100, 100]}, "axis": null},
        "text": {"field": "txt"}
      }
    },
    {
      "data": {"name": "note_left"},
      "mark": {"type": "text", "align": "left", "baseline": "middle", "fontSize": 28, "fontWeight": "bold", "font": "Liberation Sans", "color": "black"},
      "encoding": {
        "x": {"field": "t", "type": "quantitative", "scale": {"domain": [-10, 70]}, "axis": null},
        "y": {"field": "g", "type": "quantitative", "scale": {"domain": [-100, 100]}, "axis": null},
        "text": {"field": "txt"}
      }
    },
    {
      "data": {"name": "note_right"},
      "mark": {"type": "text", "align": "right", "baseline": "middle", "fontSize": 28, "fontWeight": "bold", "font": "Liberation Sans", "color": "black"},
      "encoding": {
        "x": {"field": "t", "type": "quantitative", "scale": {"domain": [-10, 70]}, "axis": null},
        "y": {"field": "g", "type": "quantitative", "scale": {"domain": [-100, 100]}, "axis": null},
        "text": {"field": "txt"}
      }
    },
    {
      "data": {"name": "dpavg"},
      "mark": {"type": "rule", "color": "#5cbfbf", "strokeWidth": 2},
      "encoding": {
        "x": {"field": "t", "type": "quantitative", "scale": {"domain": [-10, 70]}, "axis": null},
        "x2": {"field": "t2"},
        "y": {"field": "d", "type": "quantitative", "scale": {"domain": [-6.9644, 3.0356]}, "axis": null}
      }
    },
    {
      "data": {"name": "dpdt"},
      "mark": {"type": "line", "strokeWidth": 2, "interpolate": "monotone"},
      "encoding": {
        "x": {"field": "t", "type": "quantitative", "scale": {"domain": [-10, 70]}, "axis": null},
        "y": {"field": "d", "type": "quantitative", "scale": {"domain": [-6.9644, 3.0356]}, "axis": null},
        "detail": {"field": "seg", "type": "nominal"},
        "color": {
          "datum": "dP/dt low-passed", "type": "nominal",
          "scale": {
            "domain": ["Pressure", "dP/dt low-passed", "Residual", "... last 10 min.", "Theor.Tide"],
            "range": ["#0000ff", "#00c8c8", "#000000", "#c0c0c0", "#ff0000"]
          }
        }
      }
    },
    {
      "data": {"name": "pressure"},
      "mark": {"type": "line", "strokeWidth": 5, "strokeJoin": "round"},
      "encoding": {
        "x": {
          "field": "t", "type": "quantitative", "scale": {"domain": [-10, 70]},
          "axis": {
            "orient": "top",
            "values": [-10,-9,-8,-7,-6,-5,-4,-3,-2,-1,0,1,2,3,4,5,6,7,8,9,10,11,12,13,14,15,16,17,18,19,20,21,22,23,24,25,26,27,28,29,30,31,32,33,34,35,36,37,38,39,40,41,42,43,44,45,46,47,48,49,50,51,52,53,54,55,56,57,58,59,60,61,62,63,64,65,66,67,68,69,70],
            "labels": false, "title": null,
            "tickSize": {"condition": {"test": "datum.value % 10 === 0", "value": 12}, "value": 6}
          }
        },
        "y": {
          "field": "p", "type": "quantitative", "scale": {"domain": [994, 1010]},
          "axis": {
            "orient": "right",
            "values": [1003, 1004, 1005, 1006, 1007, 1008, 1009],
            "labelExpr": "datum.value % 2 === 0 ? '' + datum.value : ''",
            "tickSize": {"condition": {"test": "datum.value % 2 === 0", "value": 12}, "value": 6},
            "labelPadding": 9,
            "title": "Pressure [hPa]", "titleFontSize": 49,
            "titleAngle": 270, "titleX": 129, "titleY": 200, "titleAlign": "center", "titleBaseline": "middle"
          }
        },
        "color": {
          "datum": "Pressure", "type": "nominal",
          "scale": {
            "domain": ["Pressure", "dP/dt low-passed", "Residual", "... last 10 min.", "Theor.Tide"],
            "range": ["#0000ff", "#00c8c8", "#000000", "#c0c0c0", "#ff0000"]
          }
        }
      }
    },
    {
      "data": {"name": "tide"},
      "mark": {"type": "line", "strokeWidth": 5.5},
      "encoding": {
        "x": {"field": "t", "type": "quantitative", "scale": {"domain": [-10, 70]}, "axis": null},
        "y": {
          "field": "tide", "type": "quantitative", "scale": {"domain": [-1500, 4500]},
          "axis": {
            "orient": "right",
            "values": [-1500,-1400,-1300,-1200,-1100,-1000,-900,-800,-700,-600,-500,-400,-300,-200,-100,0,100,200,300,400,500,600,700,800,900,1000,1100,1200,1300,1400],
            "labelExpr": "datum.value % 500 === 0 ? '' + datum.value : ''",
            "tickSize": {"condition": {"test": "datum.value % 500 === 0", "value": 12}, "value": 6},
            "labelAlign": "right", "labelPadding": 80,
            "title": "Tide [nm/s²]", "titleFontSize": 49,
            "titleAngle": 270, "titleX": 140, "titleY": 595, "titleAlign": "center", "titleBaseline": "middle"
          }
        },
        "color": {
          "datum": "Theor.Tide", "type": "nominal",
          "scale": {
            "domain": ["Pressure", "dP/dt low-passed", "Residual", "... last 10 min.", "Theor.Tide"],
            "range": ["#0000ff", "#00c8c8", "#000000", "#c0c0c0", "#ff0000"]
          }
        }
      }
    }
  ],
  "resolve": {"scale": {"y": "independent"}, "axis": {"x": "independent", "y": "independent"}}
}
